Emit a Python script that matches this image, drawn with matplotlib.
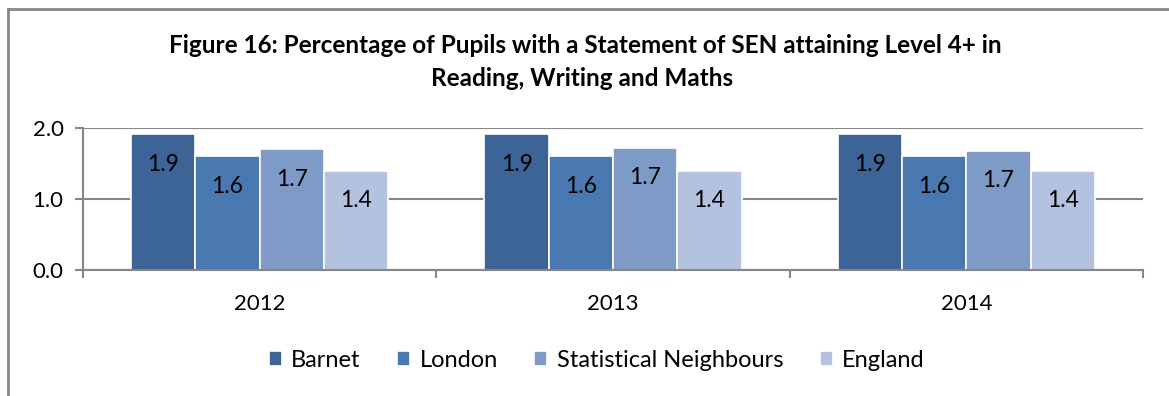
import matplotlib
matplotlib.use('Agg')
import matplotlib.pyplot as plt
from matplotlib.lines import Line2D
import numpy as np

years = ['2012', '2013', '2014']
series = ['Barnet', 'London', 'Statistical Neighbours', 'England']
barnet = [1.91, 1.91, 1.91]
london = [1.60, 1.60, 1.60]
stat_neighbours = [1.70, 1.72, 1.68]
england = [1.40, 1.40, 1.40]
colors = ['#3c6496', '#4a78b0', '#7e9bc7', '#b3c3df']

plt.rcParams['font.family'] = ['Lato', 'DejaVu Sans']

fig = plt.figure(figsize=(11.69, 3.96), dpi=100)
ax = fig.add_axes([0.071, 0.318, 0.9068, 0.3586])

x = np.arange(len(years))
w = 0.182
values = [barnet, london, stat_neighbours, england]
for i, (name, vals) in enumerate(zip(series, values)):
    pos = x + (i - 1.5) * w
    bars = ax.bar(pos, vals, width=w, color=colors[i], edgecolor='white',
                  linewidth=1.2, label=name, zorder=3)
    for b, v in zip(bars, vals):
        ax.text(b.get_x() + b.get_width() / 2, v - 0.42, f'{v:.1f}',
                ha='center', va='center', fontsize=16.5, color='black', zorder=4)

ax.set_xlim(-0.5, 2.5)
ax.set_ylim(0, 2.0)
ax.set_yticks([0, 1.0, 2.0])
ax.set_yticklabels(['0.0', '1.0', '2.0'], fontsize=16)
ax.set_xticks(x)
ax.set_xticklabels(years, fontsize=16)
ax.set_xticks([-0.5, 0.5, 1.5, 2.5], minor=True)
ax.tick_params(axis='x', which='major', length=0, pad=17)
ax.tick_params(axis='x', which='minor', length=6, width=1.5, color='#868686')
ax.tick_params(axis='y', length=6, width=1.5, color='#868686', pad=8)

ax.yaxis.grid(True, color='#868686', linewidth=1.5, zorder=0)
for s in ['top', 'right']:
    ax.spines[s].set_visible(False)
for s in ['left', 'bottom']:
    ax.spines[s].set_color('#868686')
    ax.spines[s].set_linewidth(1.5)
ax.spines['bottom'].set_zorder(5)

fig.text(0.501, 0.884, 'Figure 16: Percentage of Pupils with a Statement of SEN attaining Level 4+ in',
         ha='center', va='center', fontsize=17.5, fontweight='bold')
fig.text(0.498, 0.801, 'Reading, Writing and Maths',
         ha='center', va='center', fontsize=17.5, fontweight='bold')

fig.legend(loc='center', bbox_to_anchor=(0.5105, 0.09), ncol=4, frameon=False,
           fontsize=17, handlelength=0.55, handleheight=0.55, handletextpad=0.4,
           columnspacing=1.55)

# outer frame
fig.add_artist(Line2D([0.0068, 1.0], [0.978, 0.978], color='#868686', linewidth=2))
fig.add_artist(Line2D([0.0068, 0.0068], [0.0, 0.978], color='#868686', linewidth=2))

fig.savefig('out.png', dpi=100)
